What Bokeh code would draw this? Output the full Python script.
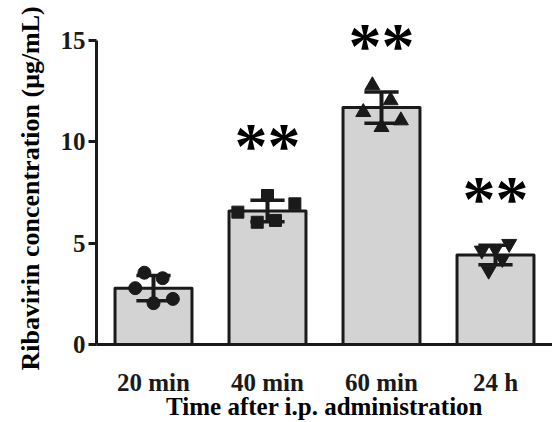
from bokeh.plotting import figure
from bokeh.models import Range1d, FixedTicker, Title
from bokeh.core.properties import value
from bokeh.embed import file_html
from bokeh.resources import INLINE

# ---- data ----
categories = ["20 min", "40 min", "60 min", "24 h"]
means = [2.78, 6.59, 11.69, 4.41]
sds = [0.62, 0.53, 0.77, 0.48]
sig = ["", "**", "**", "**"]
sig_level = [0.0, 10.2, 15.15, 7.6]

pts_20min = [3.54, 3.27, 2.78, 2.04, 2.25]
pts_40min = [7.35, 6.94, 6.53, 6.03, 6.12]
pts_60min = [12.78, 12.04, 11.46, 11.05, 10.72]
pts_24h = [4.64, 4.97, 4.72, 4.23, 3.65]
jit_20min = [-0.08, 0.08, -0.16, 0.0, 0.17]
jit_40min = [0.0, 0.24, -0.26, -0.09, 0.07]
jit_60min = [-0.08, 0.08, -0.16, 0.17, 0.0]
jit_24h = [-0.12, 0.12, 0.0, 0.06, -0.06]

y_ticks = [0, 5, 10, 15]

FONT = "Liberation Serif"
INK = "#1a1a1a"

xc = [i + 0.5 for i in range(len(categories))]

p = figure(width=552, height=422, output_backend="svg", toolbar_location=None,
           x_range=Range1d(0, 4.0), y_range=Range1d(0, 16.97),
           min_border_left=96, min_border_right=0, min_border_top=0,
           min_border_bottom=0)
p.outline_line_color = None
p.grid.visible = False
p.background_fill_color = "white"

# bars
p.vbar(x=xc, top=means, bottom=0, width=0.675, fill_color="#d3d3d3",
       line_color=INK, line_width=3, line_join="round")

# points
groups = [(pts_20min, jit_20min, "circle", 13),
          (pts_40min, jit_40min, "square", 12),
          (pts_60min, jit_60min, "triangle", 15),
          (pts_24h, jit_24h, "inverted_triangle", 15)]
for i, (vals, jit, mk, sz) in enumerate(groups):
    p.scatter(x=[xc[i] + j for j in jit], y=vals, marker=mk, size=sz,
              fill_color=INK, line_color=INK)

# error bars
lo = [m - s for m, s in zip(means, sds)]
hi = [m + s for m, s in zip(means, sds)]
p.segment(x0=xc, x1=xc, y0=lo, y1=hi, line_color=INK, line_width=4)
p.segment(x0=[x - 0.15 for x in xc], x1=[x + 0.15 for x in xc], y0=hi, y1=hi,
          line_color=INK, line_width=3.5)
p.segment(x0=[x - 0.15 for x in xc], x1=[x + 0.15 for x in xc], y0=lo, y1=lo,
          line_color=INK, line_width=3.5)

# significance marks
p.text(x=xc, y=sig_level, text=sig, text_font=value(FONT), text_font_style="bold",
       text_font_size="66px", text_align="center", text_baseline="middle",
       text_color="black", y_offset=8)

# axes
ya = p.yaxis[0]
ya.ticker = FixedTicker(ticks=y_ticks)
ya.bounds = (0, 15)
ya.axis_line_width = 3
ya.axis_line_color = INK
ya.major_tick_in = 0
ya.major_tick_out = 8
ya.major_tick_line_width = 3
ya.major_tick_line_color = INK
ya.minor_tick_line_color = None
ya.major_label_text_font = FONT
ya.major_label_text_font_style = "bold"
ya.major_label_text_font_size = "25px"
ya.major_label_text_color = INK
ya.major_label_standoff = 3

xa = p.xaxis[0]
xa.ticker = FixedTicker(ticks=xc)
xa.major_label_overrides = {x: c for x, c in zip(xc, categories)}
xa.axis_line_width = 3
xa.axis_line_color = INK
xa.major_tick_line_color = None
xa.major_tick_in = 0
xa.major_tick_out = 0
xa.minor_tick_line_color = None
xa.major_label_text_font = FONT
xa.major_label_text_font_style = "bold"
xa.major_label_text_font_size = "25px"
xa.major_label_text_color = INK
xa.major_label_text_line_height = 1.0
xa.major_label_standoff = 24
xa.axis_label = "Time after i.p. administration"
xa.axis_label_text_font = FONT
xa.axis_label_text_font_style = "bold"
xa.axis_label_text_font_size = "25px"
xa.axis_label_text_color = "black"
xa.axis_label_text_line_height = 1.0
xa.axis_label_standoff = -6

p.add_layout(Title(text="Ribavirin concentration (μg/mL)", text_font=FONT,
                   text_font_style="bold", text_font_size="26px",
                   align="left", offset=-26, standoff=26, text_color="black"), "left")

open("out.html", "w").write(file_html(p, INLINE))
